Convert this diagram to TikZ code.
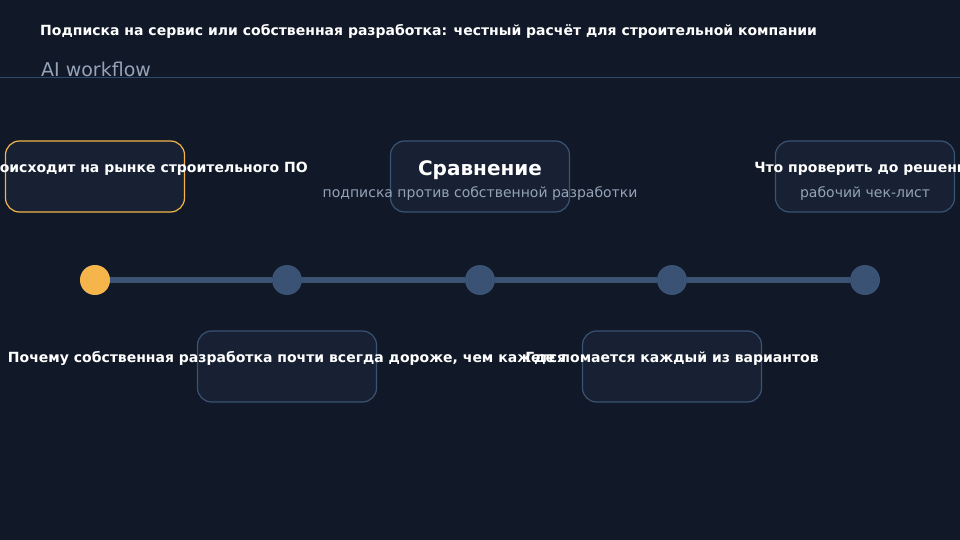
\documentclass[tikz,border=0pt]{standalone}
\usepackage{fontspec}
\setmainfont{DejaVu Sans}
\definecolor{bgdark}{HTML}{111827}
\definecolor{boxfill}{HTML}{172133}
\definecolor{edgeblue}{HTML}{3A5273}
\definecolor{ruleblue}{HTML}{2D4A6B}
\definecolor{accent}{HTML}{F5B54A}
\definecolor{muted}{HTML}{94A3B8}
\tikzset{
	card/.style={draw=edgeblue,fill=boxfill,line width=1.2pt,rounded corners=14pt,
		minimum width=179pt,minimum height=71pt,inner sep=0pt},
	dot/.style={circle,fill=edgeblue,minimum size=30pt,inner sep=0pt},
	head/.style={text=white,font=\bfseries\fontsize{14}{16}\selectfont,inner sep=0pt},
	sub/.style={text=muted,font=\fontsize{14}{16}\selectfont,inner sep=0pt}
}
\begin{document}
\begin{tikzpicture}[x=1pt,y=-1pt]
	\fill[bgdark] (0,0) rectangle (960,540);
	\useasboundingbox (0,0) rectangle (960,540);
	% header
	\node[head,anchor=west] (title) at (40,31)
		{Подписка на сервис или собственная разработка: честный расчёт для строительной компании};
	\node[sub,anchor=west,font=\fontsize{19}{22}\selectfont] (tag) at (41,69.5) {AI workflow};
	\draw[ruleblue,line width=1pt] (0,78) -- (960,78);
	% timeline dots
	\foreach \x / \name in {95/d1, 287/d2, 480/d3, 672/d4, 865/d5}
		\node[dot] (\name) at (\x,280) {};
	\node[dot,fill=accent] at (d1) {};
	\foreach \a / \b in {d1/d2, d2/d3, d3/d4, d4/d5}
		\draw[edgeblue,line width=6pt] (\a) -- (\b);
	% cards above
	\node[card,draw=accent] (c1) at (95,176.5) {};
	\node[card] (c3) at (480,176.5) {};
	\node[card] (c5) at (865,176.5) {};
	% cards below
	\node[card] (c2) at (287,366.5) {};
	\node[card] (c4) at (672,366.5) {};
	% labels
	\node[head] at ([xshift=32pt,yshift=8pt]c1.center) {Что происходит на рынке строительного ПО};
	\node[head,font=\bfseries\fontsize{20}{22}\selectfont] at ([yshift=6pt]c3.center) {Сравнение};
	\node[sub] at ([yshift=-17pt]c3.center) {подписка против собственной разработки};
	\node[head] at ([yshift=8pt]c5.center) {Что проверить до решения};
	\node[sub] at ([yshift=-17pt]c5.center) {рабочий чек-лист};
	\node[head] at ([yshift=8.5pt]c2.center) {Почему собственная разработка почти всегда дороже, чем кажется};
	\node[head] at ([yshift=8pt]c4.center) {Где ломается каждый из вариантов};
\end{tikzpicture}
\end{document}
